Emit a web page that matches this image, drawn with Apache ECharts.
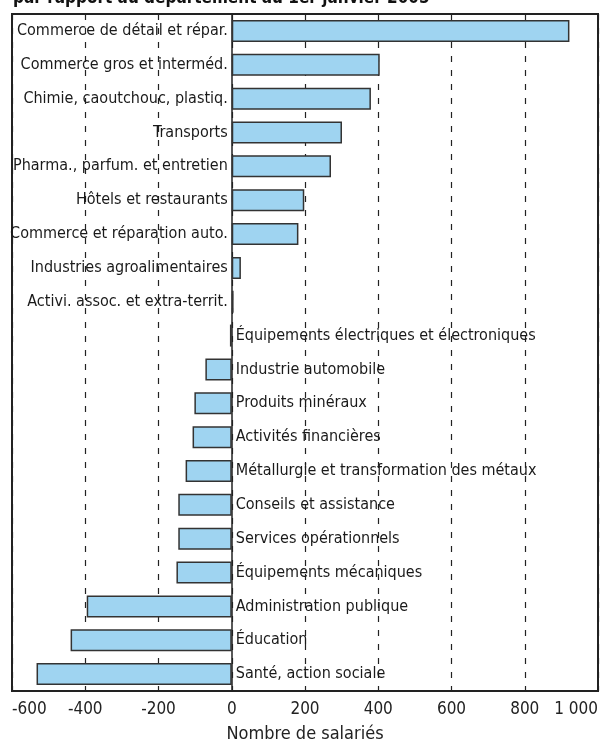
<!DOCTYPE html>
<html>
<head>
<meta charset="utf-8">
<script src="https://cdn.jsdelivr.net/npm/echarts@6/dist/echarts.min.js"></script>
<style>
  html, body { margin: 0; padding: 0; background: #fff; }
  #chart { width: 606px; height: 742px; }
</style>
</head>
<body>
<div id="chart"></div>
<script>
// secteurs, du haut vers le bas
const categories = [
  'Commerce de détail et répar.',
  'Commerce gros et interméd.',
  'Chimie, caoutchouc, plastiq.',
  'Transports',
  'Pharma., parfum. et entretien',
  'Hôtels et restaurants',
  'Commerce et réparation auto.',
  'Industries agroalimentaires',
  'Activi. assoc. et extra-territ.',
  'Équipements électriques et électroniques',
  'Industrie automobile',
  'Produits minéraux',
  'Activités financières',
  'Métallurgie et transformation des métaux',
  'Conseils et assistance',
  'Services opérationnels',
  'Équipements mécaniques',
  'Administration publique',
  'Éducation',
  'Santé, action sociale'
]
// écart en nombre de salariés
const values = [922, 404, 380, 301, 271, 198, 182, 25, 5, -5, -72, -102, -107, -126, -146, -146, -151, -396, -440, -533]
const titleText = 'par rapport au département au 1er janvier 2005'

const FONT = '"Liberation Sans Narrow", "DejaVu Sans Condensed", "Roboto Condensed", sans-serif'

const chart = echarts.init(document.getElementById('chart'))

const barData = categories.map((name, i) => ({
  name: name,
  value: values[i],
  label: { position: values[i] > 0 ? 'left' : 'right' }
}))

chart.setOption({
  animation: false,
  backgroundColor: '#fff',
  title: {
    text: titleText,
    left: 8,
    top: -15,
    textStyle: { fontFamily: FONT, fontWeight: 'bold', fontSize: 17, color: '#111' }
  },
  grid: {
    left: 12,
    right: 8,
    top: 14,
    bottom: 51,
    outerBoundsMode: 'none',
    containLabel: false,
    show: true,
    borderColor: '#222',
    borderWidth: 2,
    backgroundColor: 'transparent'
  },
  xAxis: {
    type: 'value',
    min: -600,
    max: 1000,
    interval: 200,
    name: 'Nombre de salariés',
    nameLocation: 'middle',
    nameGap: 34,
    nameTextStyle: { fontFamily: FONT, fontSize: 18, color: '#222' },
    axisLine: { show: false },
    axisTick: { show: false },
    axisLabel: {
      fontFamily: FONT,
      fontSize: 17,
      color: '#222',
      margin: 10,
      alignMinLabel: 'left',
      alignMaxLabel: 'right',
      formatter: v => (v === 1000 ? '1 000' : String(v))
    },
    splitLine: {
      show: true,
      lineStyle: { color: '#222', type: [6, 8], width: 1.2 }
    }
  },
  yAxis: {
    type: 'category',
    inverse: true,
    data: categories,
    axisLine: { show: true, onZero: true, lineStyle: { color: '#222', width: 1.5 } },
    axisTick: { show: false },
    axisLabel: { show: false },
    splitLine: { show: false }
  },
  series: [
    {
      type: 'bar',
      barWidth: 22,
      data: barData,
      itemStyle: { color: '#9fd4f1', borderColor: '#333', borderWidth: 1.5 },
      label: {
        show: true,
        formatter: '{b}',
        distance: 4,
        fontFamily: FONT,
        fontSize: 16,
        color: '#1a1a1a'
      }
    }
  ]
})
</script>
</body>
</html>
